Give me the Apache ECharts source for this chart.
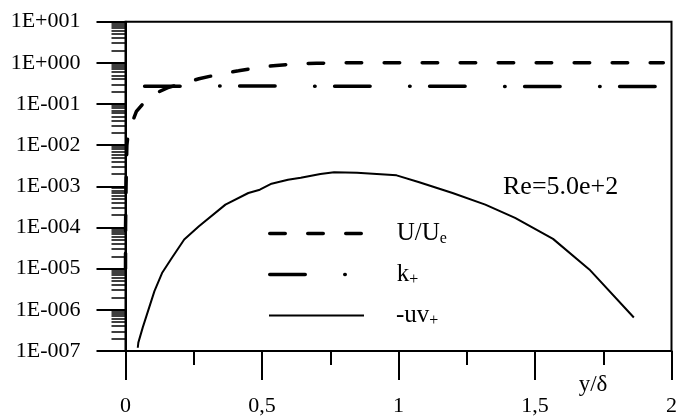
<!DOCTYPE html>
<html>
<head>
<meta charset="utf-8">
<script src="https://cdn.jsdelivr.net/npm/echarts@6/dist/echarts.min.js"></script>
<style>
html,body{margin:0;padding:0;background:#fff;}
#chart{width:680px;height:417px;}
</style>
</head>
<body>
<div id="chart"></div>
<script>
// ---- data ----
var seriesNames = ['U/Ue', 'k+', '-uv+'];
var uUe = [
  [0.00002, 1e-5], [0.0002, 1e-4], [0.002, 1e-3], [0.005, 0.01], [0.01, 0.02],
  [0.016, 0.026], [0.04, 0.066], [0.088, 0.155], [0.153, 0.247], [0.215, 0.325],
  [0.269, 0.41], [0.349, 0.54], [0.414, 0.64], [0.479, 0.76], [0.541, 0.85],
  [0.613, 0.93], [0.7, 0.98], [0.8, 1.0], [1.0, 1.0], [1.5, 1.0], [1.97, 1.0]
];
var kPlus = [
  [0.07, 0.27], [0.2, 0.27], [0.5, 0.275], [0.8, 0.27], [1.2, 0.27], [1.6, 0.265], [1.97, 0.265]
];
var uvPlus = [
  [0.045, 1.2e-7], [0.047, 1.6e-7], [0.063, 3.7e-7], [0.106, 2.85e-6], [0.135, 8.1e-6],
  [0.166, 1.67e-5], [0.215, 5.1e-5], [0.269, 1.07e-4], [0.366, 3.6e-4], [0.45, 6.9e-4],
  [0.492, 8.3e-4], [0.535, 1.16e-3], [0.595, 1.45e-3], [0.642, 1.62e-3], [0.714, 2.0e-3],
  [0.764, 2.2e-3], [0.848, 2.15e-3], [0.993, 1.85e-3], [1.076, 1.26e-3], [1.198, 6.9e-4],
  [1.318, 3.6e-4], [1.427, 1.71e-4], [1.566, 5.3e-5], [1.699, 9.6e-6], [1.862, 6.5e-7]
];
var xTickLabels = ['0', '0,5', '1', '1,5', '2'];
var yTickLabels = ['1E-007', '1E-006', '1E-005', '1E-004', '1E-003', '1E-002', '1E-001', '1E+000', '1E+001'];
var legendRich = {
  'U/Ue': '{a|U/U}{s|e}',
  'k+': '{a|k}{s|+}',
  '-uv+': '{a|-uv}{s|+}'
};
var annotation = 'Re=5.0e+2';
var xName = 'y/\u03b4';

// minor tick positions of the log axis (2..9 in each decade)
var minorVals = [];
for (var e = -7; e < 1; e++) {
  for (var m = 2; m <= 9; m++) minorVals.push(m * Math.pow(10, e));
}

var FONT = 'Liberation Serif';
var chart = echarts.init(document.getElementById('chart'), null, {renderer: 'canvas'});
var richStyles = {
  a: {fontSize: 25, fontFamily: FONT, color: '#000', lineHeight: 26, padding: [0, 0, 0, 27]},
  s: {fontSize: 16, fontFamily: FONT, color: '#000', lineHeight: 12, verticalAlign: 'bottom'}
};
var lineStyles = [
  {color: '#000', width: 3.5, type: [15.5, 22.5], cap: 'round'},
  {color: '#000', width: 3.5, type: [35.5, 39.5, 0.5, 19.5], cap: 'round'},
  {color: '#000', width: 2, type: 'solid'}
];
function makeLegend(i, top) {
  return {
    data: [seriesNames[i]], left: 268, top: top, orient: 'vertical', selectedMode: false,
    itemWidth: 95, itemHeight: 14, itemGap: 0, padding: 0,
    itemStyle: {opacity: 0},
    lineStyle: lineStyles[i],
    formatter: function (n) { return legendRich[n]; },
    textStyle: {rich: richStyles}
  };
}
chart.setOption({
  animation: false,
  backgroundColor: '#fff',
  grid: {left: 125.5, right: 2, top: 21.7, bottom: 65.3, show: true, borderColor: '#000', borderWidth: 2, backgroundColor: 'transparent'},
  xAxis: {
    type: 'value', min: 0, max: 2, interval: 0.5,
    axisLine: {show: true, lineStyle: {color: '#000', width: 2}},
    axisTick: {show: true, length: 29, lineStyle: {color: '#000', width: 2}},
    minorTick: {show: true, splitNumber: 2, length: 14, lineStyle: {color: '#000', width: 2}},
    splitLine: {show: false},
    axisLabel: {
      margin: 44, fontSize: 22, fontFamily: FONT, color: '#000',
      formatter: function (v) { return xTickLabels[Math.round(v / 0.5)]; }
    }
  },
  yAxis: [{
    type: 'log', logBase: 10, min: 1e-7, max: 10, interval: 1,
    position: 'left',
    axisLine: {show: true, lineStyle: {color: '#000', width: 2}},
    axisTick: {show: true, length: 29, lineStyle: {color: '#000', width: 2}},
    splitLine: {show: false},
    axisLabel: {
      margin: 45, fontSize: 22, fontFamily: FONT, color: '#000',
      formatter: function (v) { return yTickLabels[Math.round(Math.log10(v)) + 7]; }
    }
  }, {
    type: 'log', logBase: 10, min: 1e-7, max: 10,
    position: 'left', offset: 0,
    axisLine: {show: false},
    axisLabel: {show: false},
    splitLine: {show: false},
    axisTick: {show: true, length: 14, customValues: minorVals, lineStyle: {color: '#000', width: 1.5}}
  }],
  legend: [makeLegend(0, 221), makeLegend(1, 262), makeLegend(2, 303)],
  graphic: [
    {type: 'text', style: {text: annotation, x: 503, y: 187, verticalAlign: 'middle', font: '26px "' + FONT + '"', fill: '#000'}},
    {type: 'text', style: {text: xName, x: 593, y: 385, align: 'center', verticalAlign: 'middle', font: '23px "' + FONT + '"', fill: '#000'}}
  ],
  series: [{
    name: seriesNames[0], type: 'line', data: uUe, showSymbol: false, symbol: 'none',
    lineStyle: lineStyles[0]
  }, {
    name: seriesNames[1], type: 'line', data: kPlus, showSymbol: false, symbol: 'none',
    lineStyle: lineStyles[1]
  }, {
    name: seriesNames[2], type: 'line', data: uvPlus, showSymbol: false, symbol: 'none',
    lineStyle: lineStyles[2]
  }]
});
</script>
</body>
</html>
